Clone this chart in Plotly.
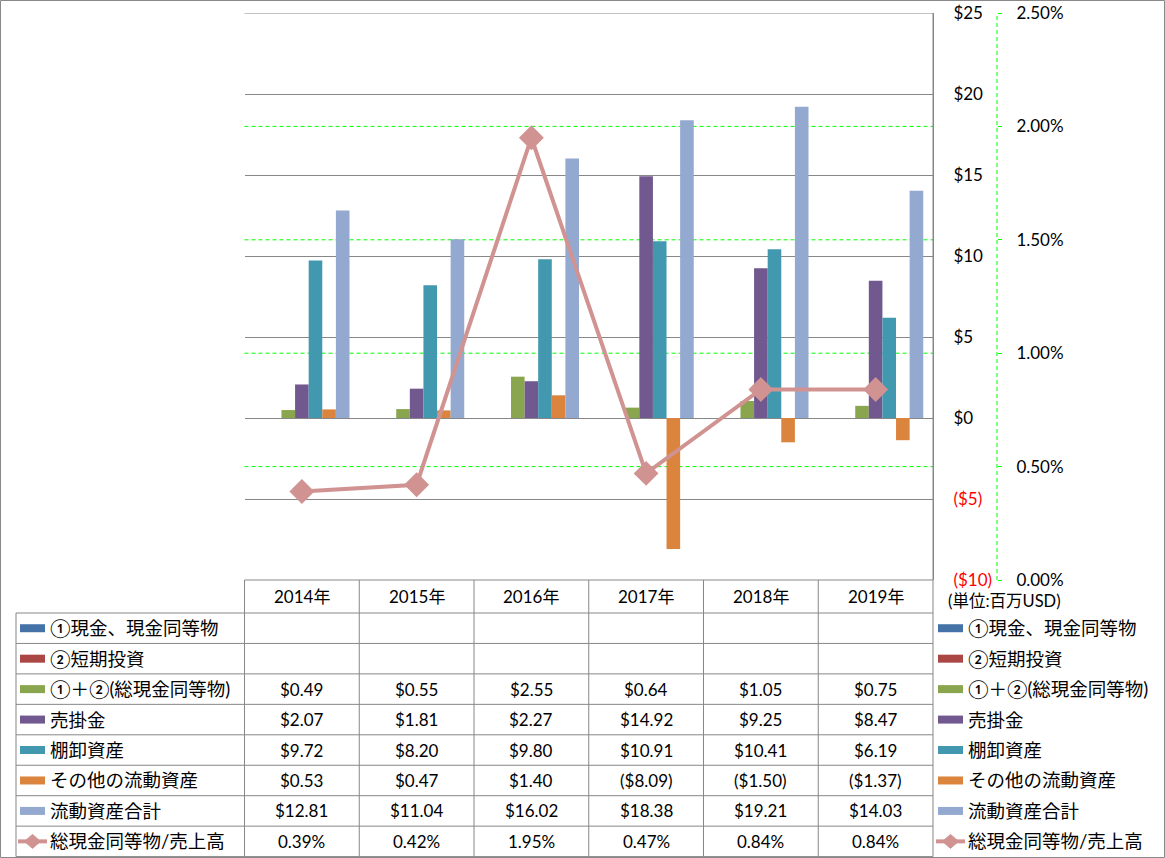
import plotly.graph_objects as go

# ---------------- data ----------------
years = ["2014年", "2015年", "2016年", "2017年", "2018年", "2019年"]
cash_equiv = [None, None, None, None, None, None]          # ①現金、現金同等物
short_invest = [None, None, None, None, None, None]        # ②短期投資
total_cash = [0.49, 0.55, 2.55, 0.64, 1.05, 0.75]          # ①＋②(総現金同等物)
receivables = [2.07, 1.81, 2.27, 14.92, 9.25, 8.47]        # 売掛金
inventory = [9.72, 8.20, 9.80, 10.91, 10.41, 6.19]         # 棚卸資産
other_current = [0.53, 0.47, 1.40, -8.09, -1.50, -1.37]    # その他の流動資産
total_current = [12.81, 11.04, 16.02, 18.38, 19.21, 14.03] # 流動資産合計
cash_to_sales_pct = [0.39, 0.42, 1.95, 0.47, 0.84, 0.84]   # 総現金同等物/売上高 (%)

bar_names = ["①現金、現金同等物", "②短期投資", "①＋②(総現金同等物)", "売掛金",
             "棚卸資産", "その他の流動資産", "流動資産合計"]
bar_series = [cash_equiv, short_invest, total_cash, receivables, inventory,
              other_current, total_current]
bar_colors = ["#4572A7", "#AA4643", "#89A54E", "#71588F", "#4198AF", "#DB843D", "#93A9CF"]
line_name = "総現金同等物/売上高"
line_color = "#D19392"

y_ticks = [-10, -5, 0, 5, 10, 15, 20, 25]
y2_ticks_pct = [0.0, 0.5, 1.0, 1.5, 2.0, 2.5]
unit_label = "(単位:百万USD)"

# ---------------- geometry (pixels) ----------------
W, H = 1165, 858
PL, PR, PT, PB = 244.5, 933.0, 13.0, 580.0
HDR_B = 613.0
ROW_H = 30.45
TBL_L = 16.0
Y2_X = 997.0
GRID = "#878787"
FONT = "Lato, 'Noto Sans CJK JP', sans-serif"


def fx(p):
    return p / W


def fy(p):
    return 1 - p / H


def money(v):
    return f"${v:.2f}" if v >= 0 else f"(${-v:.2f})"


def money_tick(v):
    if v < 0:
        return f'<span style="color:#FF0000">(${-v:d})</span>'
    return f"${v:d}"


fig = go.Figure()

for name, vals, col in zip(bar_names, bar_series, bar_colors):
    fig.add_trace(go.Bar(x=years, y=vals, name=name, marker=dict(color=col, line=dict(width=0)),
                         yaxis="y", showlegend=False))

fig.add_trace(go.Scatter(x=years, y=[v / 100 for v in cash_to_sales_pct], name=line_name,
                         yaxis="y2", mode="lines+markers",
                         line=dict(color=line_color, width=4),
                         marker=dict(symbol="diamond", size=17, color=line_color,
                                     line=dict(color=line_color, width=2)),
                         showlegend=False))

shapes = []
annotations = []

# outer border
shapes.append(dict(type="rect", xref="paper", yref="paper", x0=fx(0.5), x1=fx(1164.5),
                   y0=fy(857.5), y1=fy(0.5), line=dict(color="#888888", width=1)))

# top gridline of plot area
shapes.append(dict(type="line", xref="paper", yref="y", x0=fx(PL), x1=fx(PR),
                   y0=y_ticks[-1], y1=y_ticks[-1], layer="between",
                   line=dict(color=GRID, width=1)))

# secondary gridlines (green dashed)
for t in y2_ticks_pct[1:-1]:
    shapes.append(dict(type="line", xref="paper", yref="y2", x0=fx(PL), x1=fx(PR),
                       y0=t / 100, y1=t / 100, layer="between",
                       line=dict(color="#00FF00", width=1, dash="4px,3px")))
# secondary axis line (green dashed)
shapes.append(dict(type="line", xref="paper", yref="paper", x0=fx(Y2_X), x1=fx(Y2_X),
                   y0=fy(PB), y1=fy(PT), line=dict(color="#00FF00", width=1, dash="4px,3px")))

# table lines
n_rows = 8
row_centers = [HDR_B + ROW_H * (k + 0.5) for k in range(n_rows)]
TBL_B = HDR_B + ROW_H * n_rows
shapes.append(dict(type="line", xref="paper", yref="paper", x0=fx(PL), x1=fx(PR),
                   y0=fy(PB), y1=fy(PB), line=dict(color=GRID, width=1)))
for k in range(n_rows + 1):
    yy = HDR_B + ROW_H * k
    shapes.append(dict(type="line", xref="paper", yref="paper", x0=fx(TBL_L), x1=fx(PR),
                       y0=fy(yy), y1=fy(yy), line=dict(color=GRID, width=1)))
shapes.append(dict(type="line", xref="paper", yref="paper", x0=fx(TBL_L), x1=fx(TBL_L),
                   y0=fy(HDR_B), y1=fy(TBL_B), line=dict(color=GRID, width=1)))
col_w = (PR - PL) / len(years)
for i in range(len(years) + 1):
    xx = PL + col_w * i
    top = PT if i == len(years) else PB
    shapes.append(dict(type="line", xref="paper", yref="paper", x0=fx(xx), x1=fx(xx),
                       y0=fy(top), y1=fy(TBL_B), line=dict(color=GRID, width=1)))

# header row: years
for yr in years:
    annotations.append(dict(x=yr, xref="x", y=fy((PB + HDR_B) / 2), yref="paper", text=yr,
                            showarrow=False, xanchor="center", yanchor="middle",
                            font=dict(family=FONT, size=17, color="#000000")))

# unit label
annotations.append(dict(x=fx(946), xref="paper", y=fy(601), yref="paper", text=unit_label,
                        showarrow=False, xanchor="left", yanchor="middle",
                        font=dict(family=FONT, size=16.5, color="#000000")))

# table values + legend keys
all_names = bar_names + [line_name]
for k, name in enumerate(all_names):
    yc = row_centers[k]
    for key_x in (20.0, 938.0):
        if k < len(bar_names):
            shapes.append(dict(type="rect", xref="paper", yref="paper", x0=fx(key_x),
                               x1=fx(key_x + 25), y0=fy(yc + 4), y1=fy(yc - 4),
                               fillcolor=bar_colors[k], line=dict(width=0)))
        else:
            shapes.append(dict(type="line", xref="paper", yref="paper", x0=fx(key_x - 2),
                               x1=fx(key_x + 27), y0=fy(yc), y1=fy(yc),
                               line=dict(color=line_color, width=4)))
            cx = key_x + 12.5
            path = (f"M {fx(cx - 8)},{fy(yc)} L {fx(cx)},{fy(yc - 7)} "
                    f"L {fx(cx + 8)},{fy(yc)} L {fx(cx)},{fy(yc + 7)} Z")
            shapes.append(dict(type="path", xref="paper", yref="paper", path=path,
                               fillcolor=line_color, line=dict(color=line_color, width=1)))
        annotations.append(dict(x=fx(key_x + 28), xref="paper", y=fy(yc), yref="paper",
                                text=name, showarrow=False, xanchor="left", yanchor="middle",
                                font=dict(family=FONT, size=18.5, color="#000000")))
    if k < len(bar_names):
        vals = bar_series[k]
        texts = ["" if v is None else money(v) for v in vals]
    else:
        texts = [f"{v:.2f}%" for v in cash_to_sales_pct]
    for yr, t in zip(years, texts):
        if t:
            annotations.append(dict(x=yr, xref="x", y=fy(yc), yref="paper", text=t,
                                    showarrow=False, xanchor="center", yanchor="middle",
                                    font=dict(family=FONT, size=17, color="#000000")))

fig.update_layout(
    width=W, height=H, autosize=False,
    margin=dict(l=0, r=0, t=0, b=0, pad=0, autoexpand=False),
    paper_bgcolor="white", plot_bgcolor="white",
    showlegend=False,
    barmode="group", bargap=0.17, bargroupgap=0,
    font=dict(family=FONT, size=17, color="#000000"),
    xaxis=dict(domain=[fx(PL), fx(PR)], type="category", showticklabels=False,
               showgrid=False, zeroline=False, showline=False, ticks="", automargin=False),
    yaxis=dict(domain=[fy(PB), fy(PT)], side="right", anchor="x", range=[-10, 25],
               tickmode="array", tickvals=y_ticks, ticktext=[money_tick(v) for v in y_ticks],
               showgrid=True, gridcolor=GRID, gridwidth=1, zeroline=False, automargin=False,
               showline=True, linecolor=GRID, linewidth=1, ticks="", ticklabelstandoff=16,
               tickfont=dict(family=FONT, size=17, color="#000000")),
    yaxis2=dict(overlaying="y", side="right", anchor="free", position=fx(Y2_X),
                range=[0, 0.025], tickmode="array", tickvals=[t / 100 for t in y2_ticks_pct],
                ticktext=[f"{t:.2f}%" for t in y2_ticks_pct], showgrid=False, zeroline=False,
                showline=False, ticks="outside", ticklen=4, tickcolor="#00FF00", tickwidth=1,
                ticklabelstandoff=11, automargin=False,
                tickfont=dict(family=FONT, size=17, color="#000000")),
    shapes=shapes,
    annotations=annotations,
)

fig.write_html("out.html", config={"displayModeBar": False})
